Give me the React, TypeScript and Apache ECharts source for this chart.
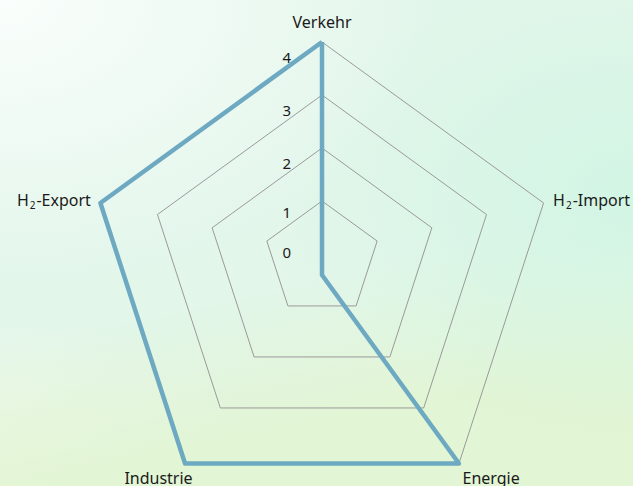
import React, { useEffect, useRef } from 'react';
import * as echarts from 'echarts';

// ---- data ----
const indicatorNames = ['Verkehr', 'H₂-Export', 'Industrie', 'Energie', 'H₂-Import'];
const seriesValues = [4, 4, 4, 4, 0];
const ringLevels = [1, 2, 3, 4];

// ---- layout ----
const CX = 322;
const ringCenterY = [259, 263.5, 268, 275];
const ringRadius = [58, 115.5, 173, 233];

const FONT = '"Noto Sans", "Open Sans", sans-serif';
const TEXT_COLOR = '#1a1a1a';
const LINE_COLOR = '#6ea9c2';

// per-indicator name placement tweaks
const nameTweaks: Record<string, any> = {
  Industrie: { nameGap: 6, nameTextStyle: { align: 'center', verticalAlign: 'top', padding: [0, 46, 0, 0] } },
  Energie: { nameGap: 6, nameTextStyle: { align: 'left', verticalAlign: 'top' } },
};

export default function App() {
  const ref = useRef<HTMLDivElement>(null);
  useEffect(() => {
    if (!ref.current) return;
    const chart = echarts.init(ref.current, undefined, { renderer: 'svg' });
    const radars = ringLevels.map((level, i) => {
      const isOuter = i === ringLevels.length - 1;
      return {
        center: [CX, ringCenterY[i]],
        radius: ringRadius[i],
        startAngle: 90,
        splitNumber: 1,
        shape: 'polygon',
        axisName: {
          show: isOuter,
          color: TEXT_COLOR,
          fontSize: 16,
          lineHeight: 20,
          fontFamily: FONT,
          formatter: (name: string) => name.replace('₂', '{sub|2}'),
          rich: {
            sub: {
              fontSize: 10,
              lineHeight: 4,
              fontFamily: FONT,
              color: TEXT_COLOR,
              verticalAlign: 'bottom',
              padding: [0, 1, 0, 1],
            },
          },
        },
        nameGap: 10,
        axisLine: { show: false },
        axisTick: { show: false },
        splitArea: { show: false },
        splitLine: { lineStyle: { color: '#9a9a9a', width: 1 } },
        axisLabel: { show: false },
        indicator: indicatorNames.map((name, j) => {
          const ind: any = { name, min: 0, max: level, ...(isOuter ? nameTweaks[name] || {} : {}) };
          if (j === 0) {
            ind.axisLabel = {
              show: true,
              margin: 31,
              color: TEXT_COLOR,
              fontSize: 15,
              fontFamily: FONT,
              formatter: (v: number) => {
                if (level === 1) return v === 1 ? '{a|1}' : '{b|0}';
                return v === level ? `{s|${v}}` : '';
              },
              rich: {
                a: { padding: [22, 0, 0, 0], fontSize: 15, fontFamily: FONT, color: TEXT_COLOR },
                b: { padding: [0, 0, 14, 0], fontSize: 15, fontFamily: FONT, color: TEXT_COLOR },
                s: { padding: [30, 0, 0, 0], fontSize: 15, fontFamily: FONT, color: TEXT_COLOR },
              },
            };
          }
          return ind;
        }),
      };
    });

    chart.setOption({
      animation: false,
      radar: radars,
      series: [
        {
          type: 'radar',
          radarIndex: ringLevels.length - 1,
          symbol: 'none',
          lineStyle: { color: LINE_COLOR, width: 4.5 },
          data: [{ value: seriesValues, name: 'Bedarf' }],
        },
      ],
    });
    return () => chart.dispose();
  }, []);

  return (
    <div
      style={{
        position: 'fixed',
        left: 0,
        top: 0,
        width: 633,
        height: 486,
        overflow: 'hidden',
        backgroundColor: '#e2f6ea',
        backgroundImage: [
          'radial-gradient(ellipse 70% 60% at 0% 0%, rgba(250,254,252,1) 0%, rgba(250,254,252,0) 100%)',
          'radial-gradient(ellipse 55% 50% at 100% 40%, rgba(210,245,228,1) 0%, rgba(210,245,228,0) 100%)',
          'linear-gradient(168deg, rgba(226,245,212,0) 55%, rgba(226,245,212,1) 80%)',
          'radial-gradient(ellipse 40% 30% at 0% 95%, rgba(240,249,232,1) 0%, rgba(240,249,232,0) 100%)',
        ].join(','),
      }}
    >
      <div ref={ref} style={{ position: 'absolute', left: 0, top: 0, width: 633, height: 486 }} />
    </div>
  );
}
